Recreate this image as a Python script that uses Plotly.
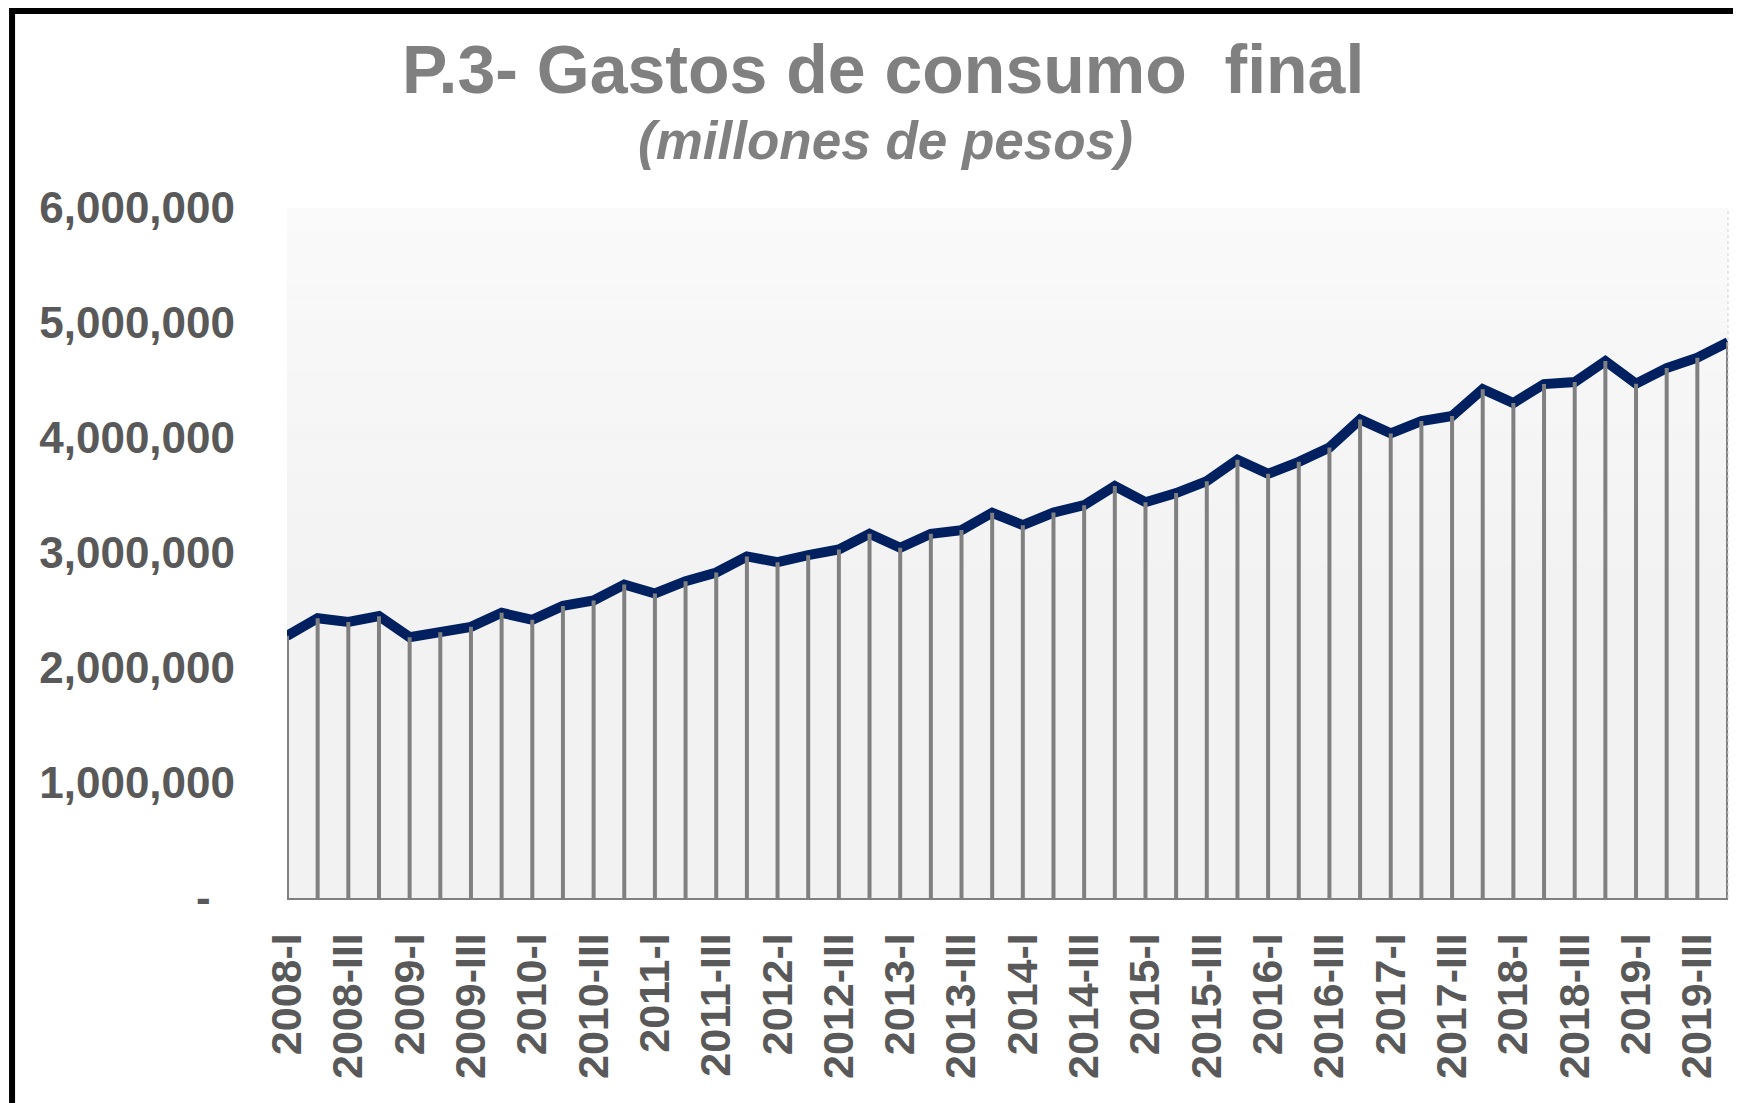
import plotly.graph_objects as go

# ---- data ----
years = list(range(2008, 2020))
quarters = ["I", "II", "III", "IV"]
categories = [f"{y}-{q}" for y in years for q in quarters]

gasto_consumo = [
    2280000, 2433000, 2401000, 2451000, 2268000, 2311000, 2358000, 2480000,
    2419000, 2540000, 2587000, 2726000, 2648000, 2755000, 2830000, 2970000,
    2920000, 2981000, 3031000, 3167000, 3045000, 3167000, 3199000, 3350000,
    3242000, 3352000, 3416000, 3582000, 3442000, 3521000, 3625000, 3811000,
    3689000, 3793000, 3918000, 4161000, 4040000, 4147000, 4191000, 4425000,
    4304000, 4469000, 4486000, 4669000, 4472000, 4608000, 4698000, 4834000,
]

x_tick_labels = categories[::2]
y_tick_values = [0, 1000000, 2000000, 3000000, 4000000, 5000000, 6000000]
y_tick_labels = ["-\u00a0\u00a0", "1,000,000", "2,000,000", "3,000,000",
                 "4,000,000", "5,000,000", "6,000,000"]

title_text = "P.3- Gastos de consumo\u00a0 final"
subtitle_text = "(millones de pesos)"

FONT = "Liberation Sans, Arial, sans-serif"

# drop lines derived from the data
drop_x, drop_y = [], []
for c, v in zip(categories, gasto_consumo):
    drop_x += [c, c, None]
    drop_y += [0, v, None]

fig = go.Figure()
fig.add_trace(go.Scatter(
    x=categories, y=gasto_consumo, mode="lines",
    line=dict(color="#002060", width=10),
    hoverinfo="skip", showlegend=False,
))
fig.add_trace(go.Scatter(
    x=drop_x, y=drop_y, mode="lines",
    line=dict(color="#808080", width=4),
    connectgaps=False, hoverinfo="skip", showlegend=False,
))

# background gradient bands (styling)
shapes = []
nb = 30
for k in range(nb):
    y0 = 0.45 + 0.55 * k / nb
    y1 = 0.45 + 0.55 * (k + 1) / nb
    t = (k + 0.5) / nb
    g = int(round(242 + (250 - 242) * t))
    shapes.append(dict(type="rect", xref="x domain", yref="y domain",
                       x0=0, x1=1, y0=y0, y1=y1, layer="below",
                       line=dict(width=0), fillcolor=f"rgb({g},{g},{g})"))
# right dotted edge
shapes.append(dict(type="line", xref="x domain", yref="y domain",
                   x0=1, x1=1, y0=0, y1=1,
                   line=dict(color="#d0d0d0", width=1, dash="dot")))
# outer frame (cropped on right/bottom)
shapes.append(dict(type="rect", xref="paper", yref="paper",
                   x0=-0.1908, x1=1.06, y0=-0.40, y1=1.2855,
                   line=dict(color="black", width=6), fillcolor="rgba(0,0,0,0)"))

fig.update_layout(
    width=1733, height=1095,
    margin=dict(l=279, r=13, t=200, b=205, autoexpand=False),
    paper_bgcolor="white",
    plot_bgcolor="#f2f2f2",
    showlegend=False,
    shapes=shapes,
    annotations=[
        dict(text=f"<b>{title_text}</b>", xref="paper", yref="paper",
             x=0.4136, y=1.2016, xanchor="center", yanchor="middle",
             showarrow=False, font=dict(family=FONT, size=68, color="#808080")),
        dict(text=f"<b><i>{subtitle_text}</i></b>", xref="paper", yref="paper",
             x=0.4150, y=1.0976, xanchor="center", yanchor="middle",
             showarrow=False, font=dict(family=FONT, size=53, color="#808080")),
    ],
    xaxis=dict(
        type="category", categoryorder="array", categoryarray=categories,
        tickmode="array", tickvals=x_tick_labels, ticktext=x_tick_labels,
        tickangle=-90, showgrid=False, zeroline=False,
        showline=True, linecolor="#808080", linewidth=2,
        ticks="", ticklabelstandoff=16,
        tickfont=dict(family=FONT, size=43, color="#595959", weight="bold"),
    ),
    yaxis=dict(
        range=[0, 6000000], tickmode="array",
        tickvals=y_tick_values, ticktext=y_tick_labels,
        showgrid=False, zeroline=False, showline=False, ticks="",
        ticklabelstandoff=51,
        tickfont=dict(family=FONT, size=44, color="#595959", weight="bold"),
    ),
)

fig.write_html("out.html")
